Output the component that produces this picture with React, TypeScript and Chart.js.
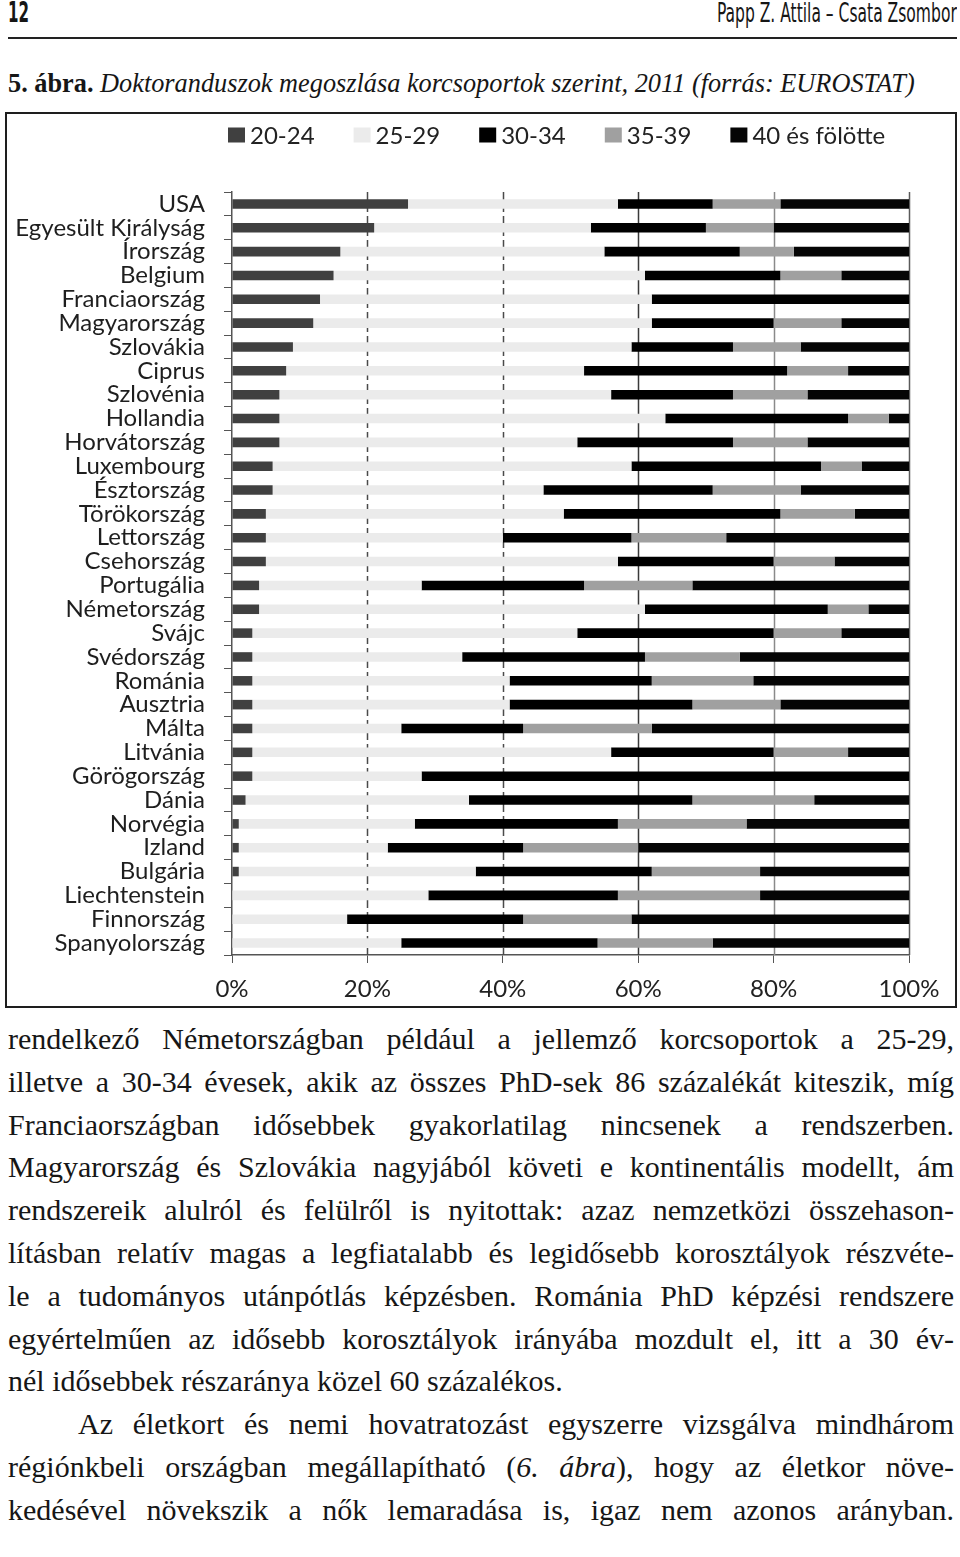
import React, { useEffect, useLayoutEffect, useRef, useState } from "react";
import { Chart, registerables } from "chart.js";

Chart.register(...registerables);

// ---- data ----
const categories = [
  "USA", "Egyesült Királyság", "Írország", "Belgium", "Franciaország", "Magyarország",
  "Szlovákia", "Ciprus", "Szlovénia", "Hollandia", "Horvátország", "Luxembourg",
  "Észtország", "Törökország", "Lettország", "Csehország", "Portugália", "Németország",
  "Svájc", "Svédország", "Románia", "Ausztria", "Málta", "Litvánia", "Görögország",
  "Dánia", "Norvégia", "Izland", "Bulgária", "Liechtenstein", "Finnország", "Spanyolország",
];
const seriesNames = ["20-24", "25-29", "30-34", "35-39", "40 és fölötte"];
const age20_24 = [26, 21, 16, 15, 13, 12, 9, 8, 7, 7, 7, 6, 6, 5, 5, 5, 4, 4, 3, 3, 3, 3, 3, 3, 3, 2, 1, 1, 1, 0, 0, 0];
const age25_29 = [31, 32, 39, 46, 49, 50, 50, 44, 49, 57, 44, 53, 40, 44, 35, 52, 24, 57, 48, 31, 38, 38, 22, 53, 25, 33, 26, 22, 35, 29, 17, 25];
const age30_34 = [14, 17, 20, 20, 38, 18, 15, 30, 18, 27, 23, 28, 25, 32, 19, 23, 24, 27, 29, 27, 21, 27, 18, 24, 72, 33, 30, 20, 26, 28, 26, 29];
const age35_39 = [10, 10, 8, 9, 0, 10, 10, 9, 11, 6, 11, 6, 13, 11, 14, 9, 16, 6, 10, 14, 15, 13, 19, 11, 0, 18, 19, 17, 16, 21, 16, 17];
const age40plus = [19, 20, 17, 10, 0, 10, 16, 9, 15, 3, 15, 7, 16, 8, 27, 11, 32, 6, 10, 25, 23, 19, 38, 9, 0, 14, 24, 40, 22, 22, 41, 29];
const xTickValues = [0, 20, 40, 60, 80, 100];
const dashedGridValues = [20, 40];
const solidGridValues = [60, 80, 100];

const seriesColors = ["#404040", "#ebebeb", "#000000", "#a0a0a0", "#050505"];
const solidGridColors = ["#3a3a3a", "#8a8a8a", "#5a5a5a"];
const CHART_FONT = "Lato";

const bodyLines: { text: React.ReactNode; mode: "justify" | "left"; indent?: number }[] = [
  { text: "rendelkező Németországban például a jellemző korcsoportok a 25-29,", mode: "justify" },
  { text: "illetve a 30-34 évesek, akik az összes PhD-sek 86 százalékát kiteszik, míg", mode: "justify" },
  { text: "Franciaországban idősebbek gyakorlatilag nincsenek a rendszerben.", mode: "justify" },
  { text: "Magyarország és Szlovákia nagyjából követi e kontinentális modellt, ám", mode: "justify" },
  { text: "rendszereik alulról és felülről is nyitottak: azaz nemzetközi összehason-", mode: "justify" },
  { text: "lításban relatív magas a legfiatalabb és legidősebb korosztályok részvéte-", mode: "justify" },
  { text: "le a tudományos utánpótlás képzésben. Románia PhD képzési rendszere", mode: "justify" },
  { text: "egyértelműen az idősebb korosztályok irányába mozdult el, itt a 30 év-", mode: "justify" },
  { text: "nél idősebbek részaránya közel 60 százalékos.", mode: "left" },
  { text: "Az életkort és nemi hovatratozást egyszerre vizsgálva mindhárom", mode: "justify", indent: 70 },
  {
    text: (
      <>
        régiónkbeli országban megállapítható (<i>6. ábra</i>), hogy az életkor növe-
      </>
    ),
    mode: "justify",
  },
  { text: "kedésével növekszik a nők lemaradása is, igaz nem azonos arányban.", mode: "justify" },
];

// ---- plugins ----
const gridPlugin = {
  id: "mixedGrid",
  beforeDatasetsDraw(chart: any) {
    const { ctx, chartArea, scales } = chart;
    const xs = scales.x;
    ctx.save();
    ctx.lineWidth = 1.5;
    ctx.strokeStyle = "#4a4a4a";
    ctx.setLineDash([8, 4]);
    dashedGridValues.forEach((v) => {
      const px = Math.round(xs.getPixelForValue(v)) + 0.5;
      ctx.beginPath();
      ctx.moveTo(px, chartArea.top);
      ctx.lineTo(px, chartArea.bottom);
      ctx.stroke();
    });
    ctx.setLineDash([]);
    solidGridValues.forEach((v, i) => {
      const px = Math.round(xs.getPixelForValue(v)) + 0.5;
      ctx.strokeStyle = solidGridColors[i];
      ctx.beginPath();
      ctx.moveTo(px, chartArea.top);
      ctx.lineTo(px, chartArea.bottom);
      ctx.stroke();
    });
    ctx.restore();
  },
};

const rowLegendPlugin = {
  id: "rowLegend",
  afterDraw(chart: any) {
    const { ctx, chartArea } = chart;
    const o = chart.options.plugins.rowLegend;
    ctx.save();
    ctx.font = `${o.fontSize}px ${CHART_FONT}`;
    ctx.textBaseline = "middle";
    ctx.textAlign = "left";
    let x = chartArea.left + o.offsetX;
    const y = o.centerY;
    chart.data.datasets.forEach((ds: any) => {
      ctx.fillStyle = ds.backgroundColor;
      ctx.fillRect(x, y - o.boxH / 2, o.boxW, o.boxH);
      x += o.boxW + o.textGap;
      ctx.fillStyle = o.color;
      ctx.fillText(ds.label, x, y + 1);
      x += ctx.measureText(ds.label).width + o.itemGap;
    });
    ctx.restore();
  },
};

function ChartBox() {
  const ref = useRef<HTMLCanvasElement | null>(null);
  useEffect(() => {
    if (!ref.current) return;
    const series = [age20_24, age25_29, age30_34, age35_39, age40plus];
    const chart = new Chart(ref.current, {
      type: "bar",
      data: {
        labels: categories,
        datasets: series.map((d, i) => ({
          label: seriesNames[i],
          data: d,
          backgroundColor: seriesColors[i],
          borderWidth: 0,
          barPercentage: 0.4,
          categoryPercentage: 1,
        })),
      },
      options: {
        animation: false,
        responsive: true,
        maintainAspectRatio: false,
        indexAxis: "y",
        layout: { padding: { left: 0, right: 46, top: 78, bottom: 0 } },
        plugins: {
          tooltip: { enabled: false },
          legend: { display: false },
          rowLegend: {
            fontSize: 24,
            color: "#222",
            boxW: 17,
            boxH: 15,
            textGap: 5,
            itemGap: 39,
            offsetX: -4,
            centerY: 21,
          },
        },
        scales: {
          x: {
            stacked: true,
            min: 0,
            max: 100,
            afterBuildTicks: (scale: any) => {
              scale.ticks = xTickValues.map((v) => ({ value: v }));
            },
            afterFit: (scale: any) => {
              scale.height = 51;
            },
            ticks: {
              font: { family: CHART_FONT, size: 24 },
              color: "#222",
              padding: 12,
              callback: (v: any) => `${v}%`,
            },
            grid: {
              display: true,
              drawOnChartArea: false,
              drawTicks: true,
              tickLength: 8,
              color: "#555",
            },
            border: { display: true, color: "#555", width: 1.5 },
          },
          y: {
            stacked: true,
            afterFit: (scale: any) => {
              scale.width = 225;
            },
            ticks: {
              font: { family: CHART_FONT, size: 24 },
              color: "#1e1e1e",
              padding: 19,
              autoSkip: false,
            },
            grid: {
              display: true,
              drawOnChartArea: false,
              drawTicks: true,
              tickLength: 8,
              offset: true,
              color: "#555",
            },
            border: { display: true, color: "#555", width: 1.5 },
          },
        },
      },
      plugins: [gridPlugin, rowLegendPlugin],
    } as any);
    return () => chart.destroy();
  }, []);
  return (
    <div style={{ position: "absolute", left: 5, top: 112, width: 948, height: 892, border: "2px solid #1e1e1e", background: "#fff" }}>
      <canvas ref={ref} />
    </div>
  );
}

// ---- text line fitted to a width ----
type LineProps = {
  left: number;
  top: number;
  width: number;
  lineHeight: number;
  style: React.CSSProperties;
  mode: "justify" | "left" | "fit";
  origin?: "left" | "right";
  indent?: number;
  children: React.ReactNode;
};

function TextLine({ left, top, width, lineHeight, style, mode, origin = "left", indent = 0, children }: LineProps) {
  const measureRef = useRef<HTMLSpanElement | null>(null);
  const [natural, setNatural] = useState<number | null>(null);
  useLayoutEffect(() => {
    const measure = () => {
      if (measureRef.current) setNatural(measureRef.current.offsetWidth);
    };
    measure();
    (document as any).fonts?.ready?.then(measure);
  }, []);
  const avail = width - indent;
  const common: React.CSSProperties = { ...style, whiteSpace: "nowrap", lineHeight: `${lineHeight}px` };
  let content: React.ReactNode = null;
  if (natural !== null) {
    if (mode === "fit" || natural > avail) {
      content = (
        <span
          style={{
            ...common,
            position: "absolute",
            top: 0,
            ...(origin === "right" ? { right: 0 } : { left: 0 }),
            display: "inline-block",
            transform: `scaleX(${avail / natural})`,
            transformOrigin: origin,
          }}
        >
          {children}
        </span>
      );
    } else if (mode === "justify") {
      content = (
        <div style={{ ...common, width: avail, textAlign: "justify", textAlignLast: "justify" } as React.CSSProperties}>
          {children}
        </div>
      );
    } else {
      content = <span style={{ ...common, display: "inline-block" }}>{children}</span>;
    }
  }
  return (
    <>
      <span
        ref={measureRef}
        style={{ ...common, position: "absolute", left: 0, top: 0, visibility: "hidden", display: "inline-block" }}
      >
        {children}
      </span>
      <div
        style={{
          position: "absolute",
          left: left + indent,
          top,
          width: avail,
          height: lineHeight,
        }}
      >
        {content}
      </div>
    </>
  );
}

export default function App() {
  const condensed = '"DejaVu Sans Condensed", "DejaVu Sans", sans-serif';
  const serif = '"Liberation Serif", "DejaVu Serif", serif';
  const lineH = 42.8;
  const firstTop = 1018;
  return (
    <div style={{ position: "absolute", left: 0, top: 0, width: 960, height: 1557, background: "#fff", color: "#161616", overflow: "hidden" }}>
      <TextLine left={8} top={-2} width={21} lineHeight={30} mode="fit" style={{ fontFamily: condensed, fontWeight: 700, fontSize: 28 }}>
        12
      </TextLine>
      <TextLine left={717} top={-2} width={240} lineHeight={30} mode="fit" origin="right" style={{ fontFamily: condensed, fontSize: 27 }}>
        Papp Z. Attila – Csata Zsombor
      </TextLine>
      <div style={{ position: "absolute", left: 8, top: 37, width: 949, height: 2, background: "#222" }} />
      <TextLine left={8} top={68} width={907} lineHeight={30} mode="fit" style={{ fontFamily: serif, fontSize: 27 }}>
        <b>5. ábra.</b> <i>Doktoranduszok megoszlása korcsoportok szerint, 2011 (forrás: EUROSTAT)</i>
      </TextLine>
      <ChartBox />
      {bodyLines.map((l, i) => (
        <TextLine
          key={i}
          left={8}
          top={firstTop + i * lineH}
          width={946}
          lineHeight={lineH}
          mode={l.mode}
          indent={l.indent || 0}
          style={{ fontFamily: serif, fontSize: 30 }}
        >
          {l.text}
        </TextLine>
      ))}
    </div>
  );
}
